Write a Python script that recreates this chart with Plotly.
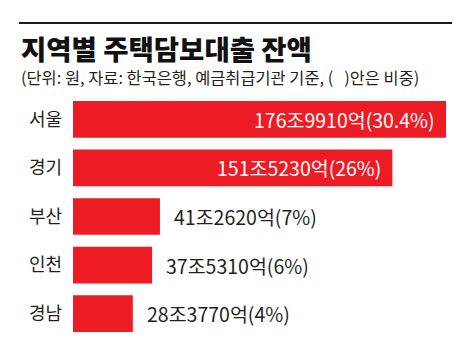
import plotly.graph_objects as go

regions = ["서울", "경기", "부산", "인천", "경남"]
values = [176.991, 151.523, 41.262, 37.531, 28.377]  # 조원
value_labels = ["176조9910억(30.4%)", "151조5230억(26%)", "41조2620억(7%)", "37조5310억(6%)", "28조3770억(4%)"]
inside = [True, True, False, False, False]

title_text = "지역별 주택담보대출 잔액"
subtitle_text = "(단위: 원, 자료: 한국은행, 예금취급기관 기준, (   )안은 비중)"

W, H = 474, 359
L, R, T, B = 73, 459, 95, 338
XMAX = 183.15
FONT = "Noto Sans CJK KR"
RED = "#ed1c24"
DARK = "#231f20"

def px_x(px):
    return (px - L) / (R - L)

def px_y(py):
    return (B - py) / (B - T)

fig = go.Figure(go.Bar(
    x=values, y=regions, orientation="h",
    marker=dict(color=RED, line=dict(width=0)),
    hoverinfo="skip",
))

annotations = []
for r, v, lab, ins in zip(regions, values, value_labels, inside):
    if ins:
        annotations.append(dict(x=v, y=r, xref="x", yref="y", text=lab, showarrow=False,
                                xanchor="right", xshift=-9, yanchor="middle",
                                font=dict(family=FONT, size=19.5, color="white")))
    else:
        annotations.append(dict(x=v, y=r, xref="x", yref="y", text=lab, showarrow=False,
                                xanchor="left", xshift=12, yanchor="middle",
                                font=dict(family=FONT, size=19.5, color=DARK)))

annotations.append(dict(x=px_x(19), y=px_y(48), xref="paper", yref="paper", text=title_text,
                        showarrow=False, xanchor="left", yanchor="middle",
                        font=dict(family=FONT, size=27.5, color="#111111", weight=900)))
annotations.append(dict(x=px_x(19), y=px_y(77), xref="paper", yref="paper", text=subtitle_text,
                        showarrow=False, xanchor="left", yanchor="middle",
                        font=dict(family=FONT, size=16.4, color=DARK)))

fig.update_layout(
    width=W, height=H,
    margin=dict(l=L, r=W - R, t=T, b=H - B, pad=0, autoexpand=False),
    paper_bgcolor="white", plot_bgcolor="white",
    bargap=0.245,
    showlegend=False,
    xaxis=dict(range=[0, XMAX], visible=False, fixedrange=True, automargin=False),
    yaxis=dict(autorange="reversed", showgrid=False, zeroline=False, showline=False,
               ticks="", ticklabelstandoff=10, automargin=False,
               tickfont=dict(family=FONT, size=18, color=DARK), fixedrange=True),
    annotations=annotations,
    shapes=[dict(type="line", xref="paper", yref="paper",
                 x0=px_x(19), x1=px_x(452), y0=px_y(23), y1=px_y(23),
                 line=dict(color="#1a1a1a", width=2))],
)

fig.write_html("out.html", config={"displayModeBar": False},
               post_script="document.body.style.margin='0';document.body.style.padding='0';")
